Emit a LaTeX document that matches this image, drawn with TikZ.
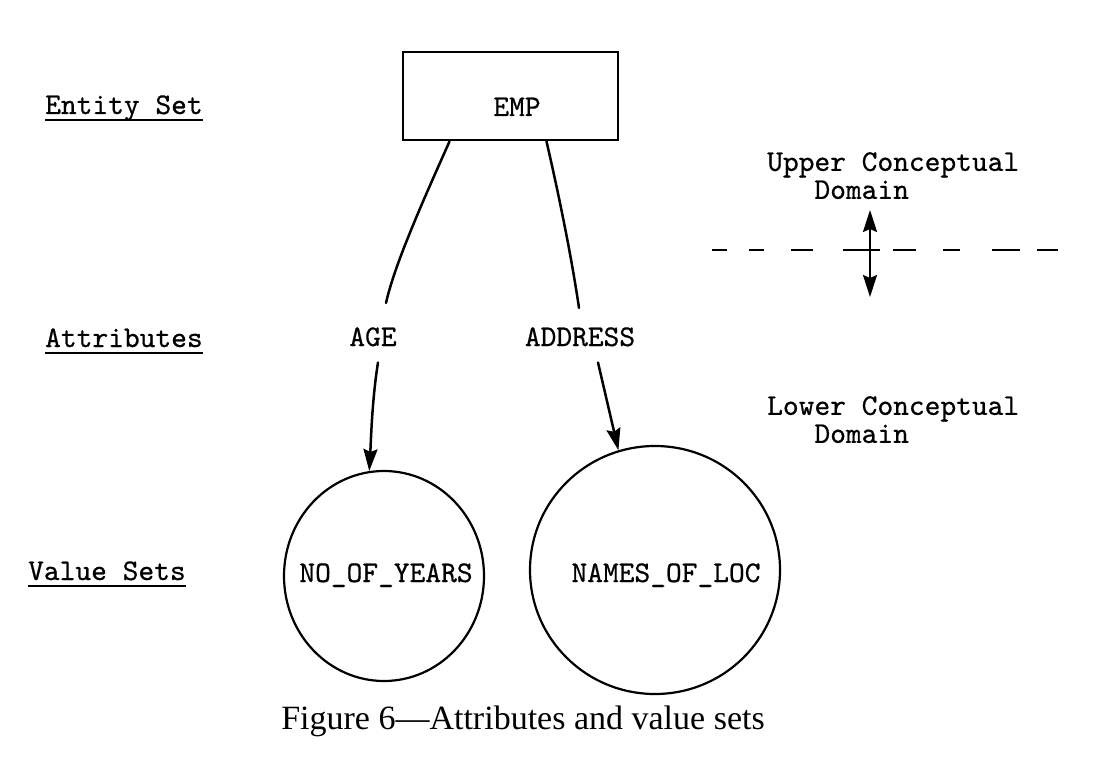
\documentclass[tikz,border=0pt]{standalone}
\usepackage{fontspec}
\setmainfont{Liberation Serif}
\newfontfamily\twfont{lmmono10-regular.otf}[FakeBold=0.6]
\usetikzlibrary{arrows.meta,calc,shapes.geometric}
\begin{document}
\begin{tikzpicture}[x=1pt,y=-1pt,
  tt/.style={font=\twfont\fontsize{30}{28}\selectfont, inner sep=0pt},
  conn/.style={line width=2.5pt, line cap=round},
  arr/.style={conn, -{Stealth[length=22pt,width=14pt,inset=3pt]}},
  ulin/.style={line width=1.6pt},
  vset/.style={draw, ellipse, line width=2.2pt, inner sep=0pt}]
\useasboundingbox (0,0) rectangle (1107,767);

% left column labels
\node[tt, anchor=base west] (es) at (45,114) {Entity Set};
\draw[ulin] ($(es.base west)+(0,6)$) -- ($(es.base east)+(0,6)$);
\node[tt, anchor=base west] (at) at (45,347) {Attributes};
\draw[ulin] ($(at.base west)+(0,6)$) -- ($(at.base east)+(0,6)$);
\node[tt, anchor=base west] (vs) at (28,580) {Value Sets};
\draw[ulin] ($(vs.base west)+(0,6)$) -- ($(vs.base east)+(0,6)$);

% entity box
\node[draw, line width=2.8pt, minimum width=215pt, minimum height=88pt] (emp) at (510.5,96) {};
\node[tt, anchor=base] (emplbl) at (517,116) {EMP};

% attributes
\node[tt, anchor=base] (age) at (373,346) {AGE};
\node[tt, anchor=base] (addr) at (580,346) {ADDRESS};
\coordinate (l1) at (386,303);
\coordinate (l2) at (579,308);
\draw[conn] ($(emp.south)+(-61,0)$) .. controls (428,190) and (395,262) .. (l1);
\draw[conn] ($(emp.south)+(36,0)$) .. controls (560,200) and (572,260) .. (l2);

% value sets
\node[vset, minimum width=200pt, minimum height=210pt] (c1) at (384,576) {};
\node[vset, minimum width=250pt, minimum height=248pt] (c2) at (655,570) {};
\node[tt, anchor=base] (c1lbl) at (386,582) {NO\_OF\_YEARS};
\node[tt, anchor=base] (c2lbl) at (666,582) {NAMES\_OF\_LOC};

\draw[arr] ($(age.south)+(5,16)$) .. controls (372,400) and (371,440) .. (c1.98);
\draw[arr] ($(addr.south)+(18,16)$) -- (c2.107);

% domain separator
\coordinate (dl) at (712,250);
\coordinate (dr) at (1058,250);
\coordinate (mid) at (870,250);
\coordinate (up) at (870,210);
\coordinate (dn) at (870,297);
\draw[line width=2pt, dash pattern=on 15pt off 22pt on 15pt off 27pt on 22pt off 30pt on 37pt off 13pt on 23pt off 27pt on 17pt off 32pt on 28pt off 17pt on 21pt off 40pt] (dl) -- (dr);
\draw[arr, line width=2pt] (mid) -- (up);
\draw[arr, line width=2pt] (mid) -- (dn);

\node[tt, anchor=north west, align=left] (upper) at (767,152) {Upper Conceptual\\\phantom{Upp}Domain};
\node[tt, anchor=north west, align=left] (lower) at (767,396) {Lower Conceptual\\\phantom{Low}Domain};

% caption
\node[font=\fontsize{34}{36}\selectfont, inner sep=0pt, anchor=base] (cap) at (523,729) {Figure 6—Attributes and value sets};
\end{tikzpicture}
\end{document}
